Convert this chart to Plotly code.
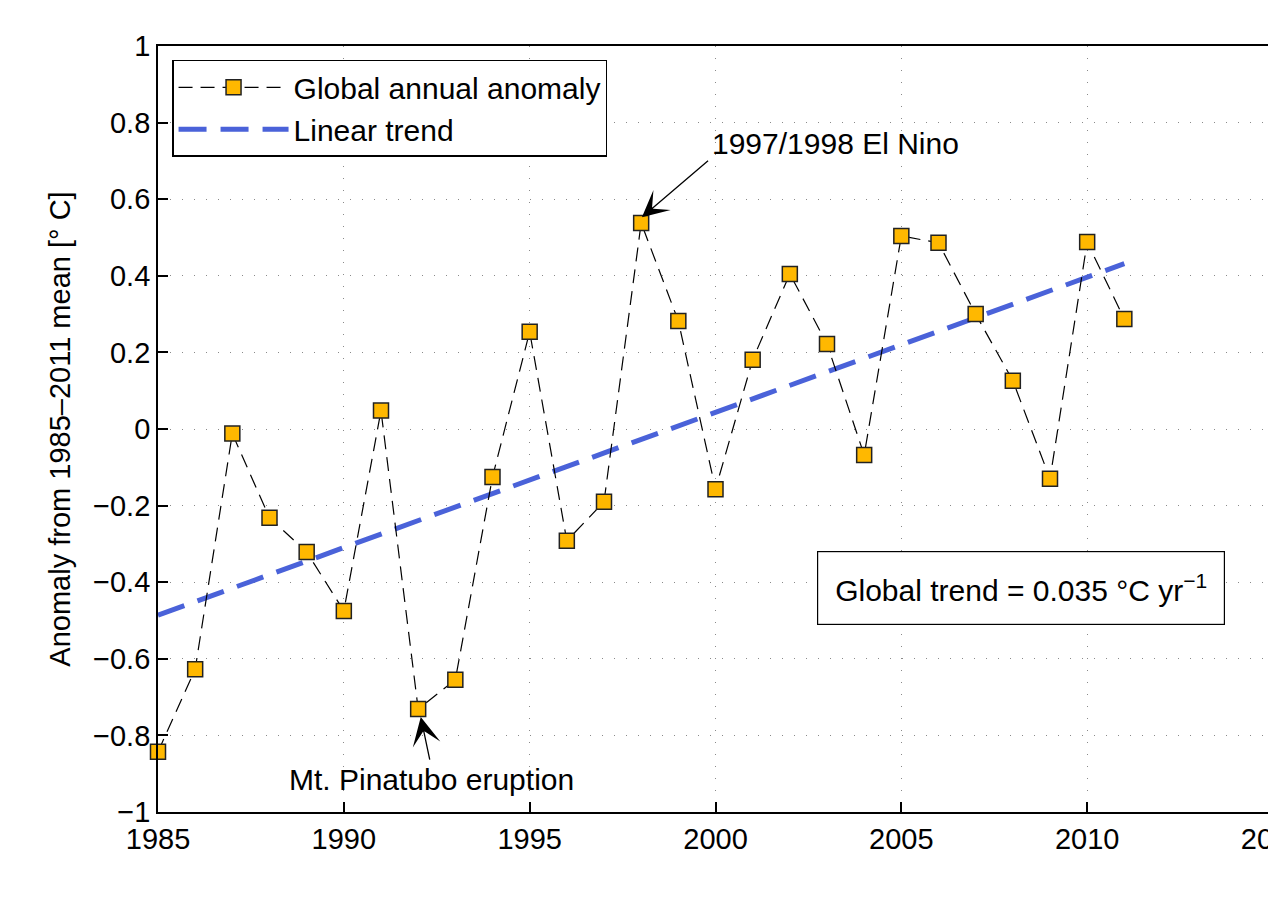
import numpy as np
import plotly.graph_objects as go

years = list(range(1985, 2012))
anomaly = [-0.843, -0.627, -0.012, -0.232, -0.321, -0.475, 0.048, -0.731, -0.655, -0.125,
           0.254, -0.292, -0.19, 0.538, 0.282, -0.157, 0.181, 0.405, 0.222, -0.068,
           0.504, 0.486, 0.300, 0.126, -0.13, 0.488, 0.287]

x_ticks = [1985, 1990, 1995, 2000, 2005, 2010, 2015]
y_ticks = [-1, -0.8, -0.6, -0.4, -0.2, 0, 0.2, 0.4, 0.6, 0.8, 1]
y_ticktext = ["\u22121", "\u22120.8", "\u22120.6", "\u22120.4", "\u22120.2", "0",
              "0.2", "0.4", "0.6", "0.8", "1"]

slope, intercept = np.polyfit(years, anomaly, 1)
trend = [slope * y + intercept for y in years]

FONT = "Liberation Sans, Arial, Helvetica, sans-serif"
FS_TICK = 29
FS_TEXT = 30

fig = go.Figure()
fig.add_trace(go.Scatter(
    x=years, y=trend, mode="lines", name="Linear trend",
    line=dict(color="#4A62D9", width=5, dash="28px,14px"),
    legendrank=2, cliponaxis=False,
))
fig.add_trace(go.Scatter(
    x=years, y=anomaly, mode="lines+markers", name="Global annual anomaly",
    line=dict(color="black", width=1.2, dash="14px,8px"),
    marker=dict(symbol="square", size=15, color="#FFB800",
                line=dict(color="#222222", width=1.5)),
    legendrank=1, cliponaxis=False,
))

fig.update_xaxes(
    range=[1985, 2015], tickvals=x_ticks, ticktext=[str(v) for v in x_ticks],
    ticklabeloverflow="allow", automargin=False,
    showline=True, linecolor="black", linewidth=1.8, mirror=True,
    ticks="inside", ticklen=10, tickwidth=1.5, tickcolor="black",
    showgrid=True, gridcolor="#8a8a8a", gridwidth=1, griddash="1px,11px",
    zeroline=False, tickfont=dict(family=FONT, size=FS_TICK, color="black"),
)
fig.update_yaxes(
    range=[-1, 1], tickvals=y_ticks, ticktext=y_ticktext,
    showline=True, linecolor="black", linewidth=1.8, mirror=True,
    ticks="inside", ticklen=10, tickwidth=1.5, tickcolor="black",
    showgrid=True, gridcolor="#8a8a8a", gridwidth=1, griddash="1px,11px",
    zeroline=False, tickfont=dict(family=FONT, size=FS_TICK, color="black"),
    title=dict(text="Anomaly from 1985\u20132011 mean [\u00b0 C]",
               font=dict(family=FONT, size=FS_TICK, color="black"), standoff=14),
)

annotations = [
    dict(x=1998.02, y=0.553, ax=1999.84, ay=0.704, xref="x", yref="y", axref="x", ayref="y",
         text="", showarrow=True, arrowhead=3, arrowsize=3.4, arrowwidth=1.3, arrowcolor="black"),
    dict(x=1999.85, y=0.745, xref="x", yref="y", text="1997/1998 El Nino", showarrow=False,
         xanchor="left", yanchor="middle", font=dict(family=FONT, size=FS_TEXT, color="black")),
    dict(x=1992.07, y=-0.752, ax=1992.32, ay=-0.867, xref="x", yref="y", axref="x", ayref="y",
         text="", showarrow=True, arrowhead=3, arrowsize=3.6, arrowwidth=1.3, arrowcolor="black"),
    dict(x=1992.35, y=-0.915, xref="x", yref="y", text="Mt. Pinatubo eruption", showarrow=False,
         xanchor="center", yanchor="middle", font=dict(family=FONT, size=FS_TEXT, color="black")),
    dict(x=2008.21, y=-0.416, xref="x", yref="y",
         text="Global trend = 0.035 \u00b0C yr<sup>\u22121</sup>", showarrow=False,
         xanchor="center", yanchor="middle", bordercolor="black", borderwidth=1.2,
         borderpad=17, bgcolor="white", font=dict(family=FONT, size=FS_TEXT, color="black")),
]

fig.update_layout(
    width=1290, height=898,
    margin=dict(l=158, r=17, t=46, b=86),
    plot_bgcolor="white", paper_bgcolor="white",
    font=dict(family=FONT, size=FS_TEXT, color="black"),
    legend=dict(x=0.0126, y=0.982, xanchor="left", yanchor="top",
                bordercolor="black", borderwidth=1.5, bgcolor="white",
                font=dict(family=FONT, size=FS_TEXT, color="black"), itemwidth=110,
                tracegroupgap=0),
    showlegend=True,
    annotations=annotations,
)

fig.write_html("out.html", config={"displayModeBar": False},
               post_script="document.body.style.margin='0';document.body.style.overflow='hidden';document.documentElement.style.overflow='hidden';")
